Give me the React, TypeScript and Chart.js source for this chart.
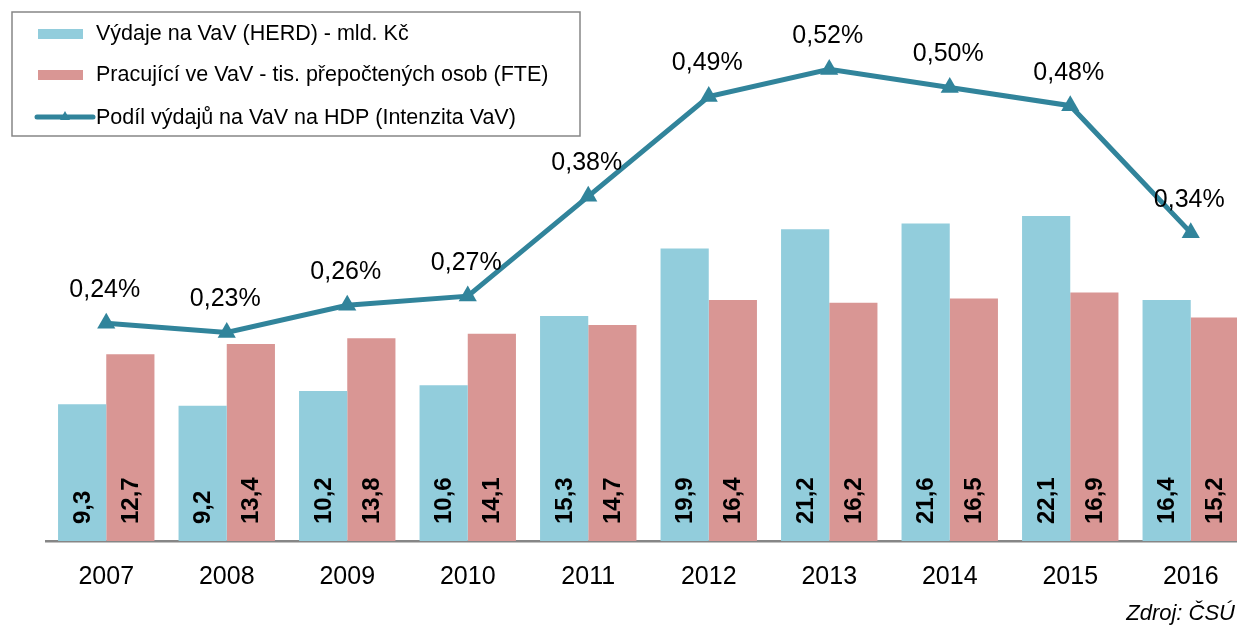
import React, { useEffect, useRef } from "react";
import { Chart, registerables } from "chart.js";

Chart.register(...registerables);

const years = ["2007", "2008", "2009", "2010", "2011", "2012", "2013", "2014", "2015", "2016"];
const herdSpending = [9.3, 9.2, 10.2, 10.6, 15.3, 19.9, 21.2, 21.6, 22.1, 16.4];
const fteStaff = [12.7, 13.4, 13.8, 14.1, 14.7, 16.4, 16.2, 16.5, 16.9, 15.2];
const rdIntensity = [0.24, 0.23, 0.26, 0.27, 0.38, 0.49, 0.52, 0.5, 0.48, 0.34];
const seriesLabels = [
  "Výdaje na VaV (HERD) - mld. Kč",
  "Pracující ve VaV - tis. přepočtených osob (FTE)",
  "Podíl výdajů na VaV na HDP (Intenzita VaV)",
];
const sourceText = "Zdroj: ČSÚ";

const BLUE = "#92CDDC";
const RED = "#D99694";
const TEAL = "#31849B";
const FONT = "'Liberation Sans', Arial, sans-serif";

const fmt = (v: number, d: number) => v.toFixed(d).replace(".", ",");

const labelsPlugin = {
  id: "customLabels",
  afterDatasetsDraw(chart: any) {
    const ctx = chart.ctx;
    ctx.save();
    [0, 1].forEach((di) => {
      const meta = chart.getDatasetMeta(di);
      meta.data.forEach((el: any, i: number) => {
        const v = chart.data.datasets[di].data[i] as number;
        ctx.save();
        ctx.translate(el.x + 1, el.base - 17);
        ctx.rotate(-Math.PI / 2);
        ctx.font = `bold 24px ${FONT}`;
        ctx.fillStyle = "#000";
        ctx.textAlign = "left";
        ctx.textBaseline = "middle";
        ctx.fillText(fmt(v, 1), 0, 0);
        ctx.restore();
      });
    });
    const lmeta = chart.getDatasetMeta(2);
    lmeta.data.forEach((el: any, i: number) => {
      const v = chart.data.datasets[2].data[i] as number;
      ctx.font = `25px ${FONT}`;
      ctx.fillStyle = "#000";
      ctx.textAlign = "center";
      ctx.textBaseline = "middle";
      ctx.fillText(fmt(v, 2) + "%", el.x - 1.5, el.y - 33);
    });
    ctx.restore();
  },
  afterDraw(chart: any) {
    const ctx = chart.ctx;
    ctx.save();
    ctx.fillStyle = "#fff";
    ctx.fillRect(12, 12, 568, 124);
    ctx.strokeStyle = "#868686";
    ctx.lineWidth = 1.5;
    ctx.strokeRect(12, 12, 568, 124);
    const rows = [33, 74, 117];
    ctx.font = `21.5px ${FONT}`;
    ctx.textBaseline = "middle";
    ctx.textAlign = "left";
    ctx.fillStyle = BLUE;
    ctx.fillRect(38, rows[0] - 4, 45, 10);
    ctx.fillStyle = RED;
    ctx.fillRect(38, rows[1] - 4, 45, 10);
    ctx.strokeStyle = TEAL;
    ctx.lineWidth = 5;
    ctx.lineCap = "round";
    ctx.beginPath();
    ctx.moveTo(37, rows[2]);
    ctx.lineTo(93, rows[2]);
    ctx.stroke();
    ctx.fillStyle = TEAL;
    ctx.beginPath();
    ctx.moveTo(65, rows[2] - 6);
    ctx.lineTo(70, rows[2] + 3);
    ctx.lineTo(60, rows[2] + 3);
    ctx.closePath();
    ctx.fill();
    ctx.fillStyle = "#000";
    seriesLabels.forEach((t, i) => ctx.fillText(t, 96, rows[i] + 1));
    ctx.font = `italic 22px ${FONT}`;
    ctx.textAlign = "right";
    ctx.fillText(sourceText, 1235, 614);
    ctx.restore();
  },
};

export default function App() {
  const ref = useRef<HTMLCanvasElement | null>(null);
  useEffect(() => {
    if (!ref.current) return;
    const chart = new Chart(ref.current, {
      type: "bar",
      data: {
        labels: years,
        datasets: [
          {
            type: "bar",
            label: seriesLabels[0],
            data: herdSpending,
            backgroundColor: BLUE,
            yAxisID: "y",
            order: 2,
            categoryPercentage: 0.8,
            barPercentage: 1,
          },
          {
            type: "bar",
            label: seriesLabels[1],
            data: fteStaff,
            backgroundColor: RED,
            yAxisID: "y",
            order: 2,
            categoryPercentage: 0.8,
            barPercentage: 1,
          },
          {
            type: "line",
            label: seriesLabels[2],
            data: rdIntensity,
            borderColor: TEAL,
            backgroundColor: TEAL,
            borderWidth: 5,
            pointStyle: "triangle",
            pointRadius: 10.5,
            pointBorderWidth: 0,
            pointBackgroundColor: TEAL,
            yAxisID: "y1",
            order: 0,
            clip: false,
            tension: 0,
          } as any,
        ],
      },
      options: {
        responsive: false,
        animation: false,
        layout: { autoPadding: false, padding: { left: 46, right: 0, top: 0, bottom: 0 } },
        plugins: {
          legend: { display: false },
          tooltip: { enabled: false },
        },
        scales: {
          x: {
            grid: { display: false, drawTicks: false },
            border: { display: true, color: "#868686", width: 2.5 },
            ticks: {
              color: "#000",
              font: { family: FONT, size: 25 },
              padding: 21,
            },
            afterFit: (scale: any) => {
              scale.height = 90;
            },
          },
          y: { display: false, min: 0, max: 36.8 },
          y1: { display: false, min: 0, max: 0.5965, position: "right" },
        },
      },
      plugins: [labelsPlugin],
    });
    return () => chart.destroy();
  }, []);
  return (
    <div style={{ position: "absolute", left: 0, top: 0, width: 1237, height: 631, overflow: "hidden", background: "#fff" }}>
      <canvas ref={ref} width={1251} height={631} style={{ display: "block" }} />
    </div>
  );
}
